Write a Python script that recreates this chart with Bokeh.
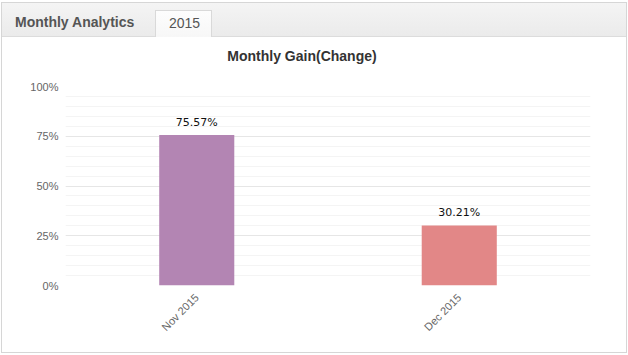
import math
from bokeh.plotting import figure
from bokeh.layouts import column
from bokeh.models import ColumnDataSource, Div, FixedTicker, PrintfTickFormatter
from bokeh.embed import file_html
from bokeh.resources import INLINE
from bokeh.core.properties import value

# ---- data ----
months = ["Nov 2015", "Dec 2015"]
gains = [75.57, 30.21]
gain_labels = ["75.57%", "30.21%"]
bar_colors = ["#b385b3", "#e28787"]
y_ticks = [0, 25, 50, 75, 100]
y_minor_ticks = [0, 5, 10, 15, 20, 25, 30, 35, 40, 45, 50, 55, 60, 65, 70, 75, 80, 85, 90, 95, 100]
chart_title = "Monthly Gain(Change)"
tab_titles = ["Monthly Analytics", "2015"]

W, H = 628, 355
HH = 70                                      # header (tab bar + title) height
FL, FR, FT, FB = 65, 590, 86 - HH, 285 - HH  # frame edges in chart canvas pixels


def css_layers(layers):
    return {
        "background-color": "#ffffff",
        "background-image": ", ".join("linear-gradient(%s,%s)" % (a, b) for a, b, _, _ in layers),
        "background-position": ", ".join(l[2] for l in layers),
        "background-size": ", ".join(l[3] for l in layers),
        "background-repeat": "no-repeat",
    }


# ---- tab bar + chart title ----
font = "font-family:'Liberation Sans',Arial,sans-serif;white-space:nowrap;"
header_html = (
    '<div style="position:relative;width:%dpx;height:%dpx;margin:0;padding:0;">'
    '<span style="position:absolute;left:15px;top:14px;font-size:14px;font-weight:bold;'
    'line-height:16px;color:#555555;%s">%s</span>'
    '<span style="position:absolute;left:169px;top:15px;font-size:14px;line-height:16px;'
    'color:#555555;%s">%s</span>'
    '<div style="position:absolute;left:0px;top:48px;width:604px;text-align:center;'
    'font-size:14px;font-weight:bold;line-height:16px;color:#333333;%s">%s</div>'
    '</div>' % (W, HH, font, tab_titles[0], font, tab_titles[1], font, chart_title)
)
hdr = Div(text=header_html, width=W, height=HH, margin=0)
hdr.styles = css_layers([
    ("#fdfdfd", "#f7f7f7", "156px 11px", "55px 26px"),   # active tab fill
    ("#d9d9d9", "#d9d9d9", "155px 10px", "57px 27px"),   # active tab border
    ("#dcdcdc", "#dcdcdc", "2px 36px", "624px 1px"),     # header bottom line
    ("#f4f4f4", "#ebebeb", "2px 3px", "624px 33px"),     # header band
    ("#ffffff", "#ffffff", "2px 37px", "624px 33px"),    # panel body
    ("#d6d6d6", "#d6d6d6", "1px 2px", "626px 68px"),     # panel border
])

# ---- chart ----
p = figure(x_range=months, y_range=(0, 100), width=W, height=H - HH,
           output_backend="svg", toolbar_location=None,
           min_border_left=FL, min_border_right=W - FR,
           min_border_top=FT, min_border_bottom=H - HH - FB)
p.margin = 0
p.outline_line_color = None
p.border_fill_color = None
p.background_fill_color = "#ffffff"
p.styles = css_layers([
    ("#ffffff", "#ffffff", "2px 0px", "624px 282px"),    # panel body
    ("#d6d6d6", "#d6d6d6", "1px 0px", "626px 283px"),    # panel border
])

src = ColumnDataSource(dict(month=months, gain=gains, label=gain_labels, color=bar_colors))
p.vbar(x="month", top="gain", width=0.286, source=src, color="color", line_color=None)
p.text(x="month", y="gain", text="label", source=src, y_offset=-13,
       text_align="center", text_baseline="alphabetic",
       text_font=value("DejaVu Sans"), text_font_size="11px", text_color="#111111")

p.yaxis.ticker = FixedTicker(ticks=y_ticks, minor_ticks=y_minor_ticks)
p.yaxis.formatter = PrintfTickFormatter(format="%d%%")
for ax in (p.xaxis[0], p.yaxis[0]):
    ax.axis_line_color = None
    ax.major_tick_line_color = None
    ax.minor_tick_line_color = None
    ax.major_tick_out = 0
    ax.major_tick_in = 0
    ax.minor_tick_out = 0
    ax.minor_tick_in = 0
    ax.major_label_text_color = "#666666"
    ax.major_label_text_font = "Liberation Sans"
    ax.major_label_text_font_size = "11px"
p.yaxis.major_label_standoff = 7
p.xaxis.major_label_orientation = math.pi / 4
p.xaxis.major_label_standoff = 10
p.xgrid.grid_line_color = None
p.ygrid.grid_line_color = "#e6e6e6"
p.ygrid.minor_grid_line_color = "#f4f4f4"

layout = column(hdr, p, spacing=0)
open("out.html", "w").write(file_html(layout, INLINE))
